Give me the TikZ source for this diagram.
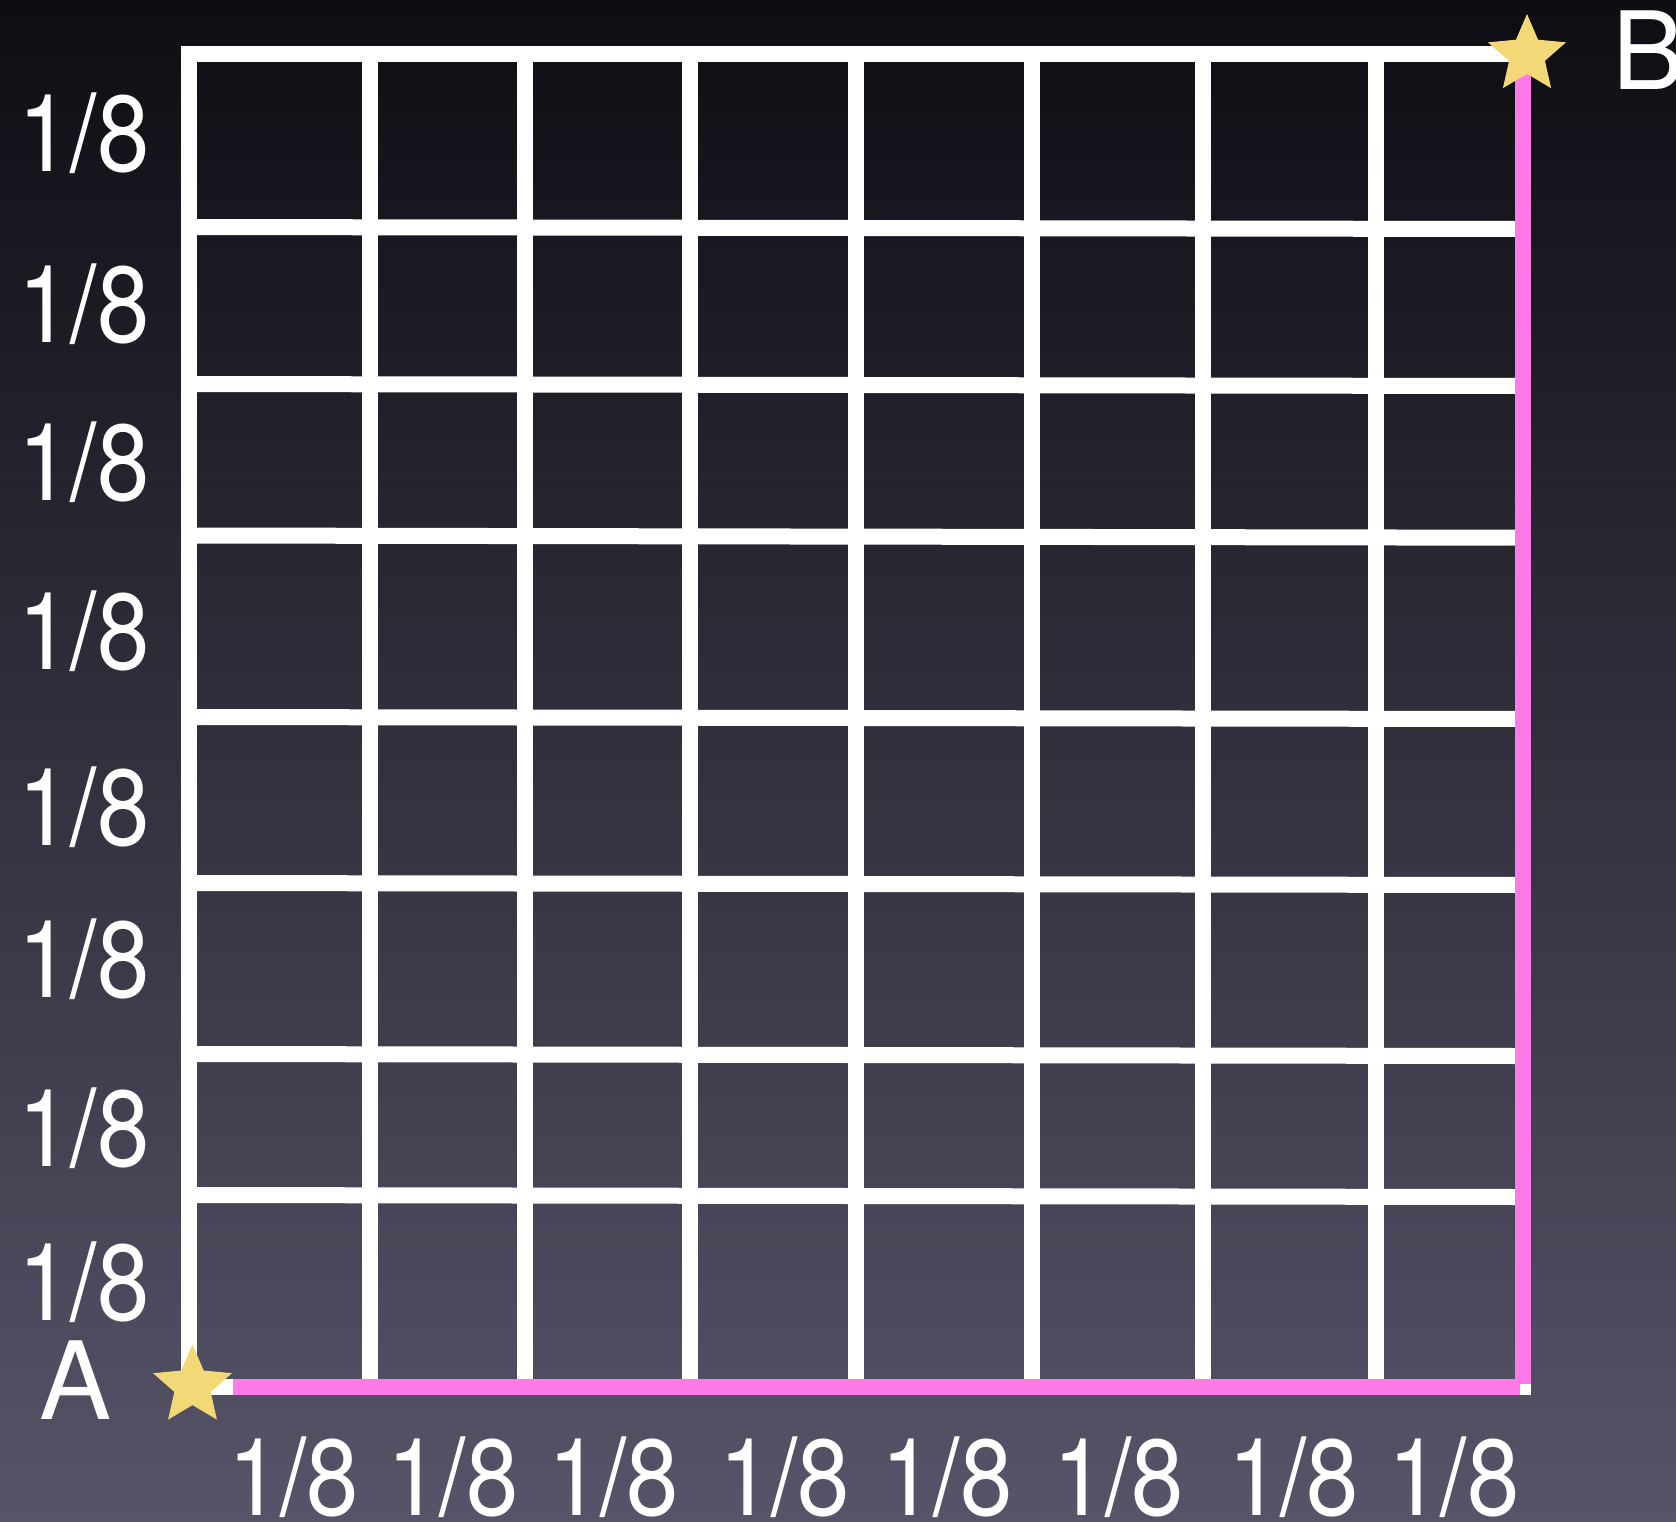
\documentclass[tikz,border=0pt]{standalone}
\usepackage{fontspec}
\setmainfont{TeX Gyre Heros}
\newfontfamily\labfont[FakeStretch=0.87]{TeX Gyre Heros}
\usetikzlibrary{calc}
\definecolor{bgtop}{RGB}{13,13,19}
\definecolor{bgbot}{RGB}{86,84,104}
\definecolor{pinkline}{RGB}{255,122,232}
\definecolor{staryellow}{RGB}{242,216,118}
\newcommand\drawmystar[2]{%
  \fill[starfill] ([shift={(#1)}]-90:#2) -- ([shift={(#1)}]-54:0.46*#2)
   -- ([shift={(#1)}]-18:#2) -- ([shift={(#1)}]18:0.46*#2)
   -- ([shift={(#1)}]54:#2) -- ([shift={(#1)}]90:0.46*#2)
   -- ([shift={(#1)}]126:#2) -- ([shift={(#1)}]162:0.46*#2)
   -- ([shift={(#1)}]198:#2) -- ([shift={(#1)}]234:0.46*#2) -- cycle;}
\begin{document}
\begin{tikzpicture}[x=0.5pt,y=-0.5pt,
  gridline/.style={white,line width=8pt},
  pathline/.style={pinkline,line width=8pt},
  lab/.style={text=white,inner sep=0pt,outer sep=0pt,font=\fontsize{54}{54}\selectfont,anchor=base},
  frac/.style={lab,font=\labfont\fontsize{54}{54}\selectfont},
  starfill/.style={fill=staryellow}]
\useasboundingbox (0,0) rectangle (1676,1521);
\shade[top color=bgtop,bottom color=bgbot] (0,0) rectangle (1676,1521);
% horizontal inner lines
\foreach \yl/\yr in {227/229,384/386,535.5/537.7,717/719,883/885,1054/1056,1195/1197}
  \draw[gridline] (189,\yl) -- (1523,\yr);
% vertical inner lines
\foreach \x in {370,525,690,856,1032,1203,1376}
  \draw[gridline] (\x,54) -- (\x,1387);
% frame
\draw[gridline,line join=miter] (189,54) rectangle (1523,1387);
% path coordinates
\coordinate (sA) at (192.5,1386);
\coordinate (sB) at (1527,55);
\coordinate (p1) at (233,1387);
\coordinate (p2) at (1520,1387);
\coordinate (p3) at (1523,1384);
\coordinate (p4) at (1523,72);
\draw[pathline] (p1) -- (p2);
\draw[pathline] (p3) -- (p4);
\drawmystar{sA}{41.5}
\drawmystar{sB}{41}
% labels
\node[lab] (A) at (76,1419) {A};
\node[lab,anchor=base west] (B) at (1612,89) {B};
\foreach \y [count=\i] in {171,342,500,669,845.5,997,1166,1320}
  \node[frac] (left\i) at (84,\y) {1/8};
\foreach \x [count=\i] in {293.5,453,613.7,784.7,947,1118.7,1293.5,1454}
  \node[frac] (bottom\i) at (\x,1515) {1/8};
\end{tikzpicture}
\end{document}
